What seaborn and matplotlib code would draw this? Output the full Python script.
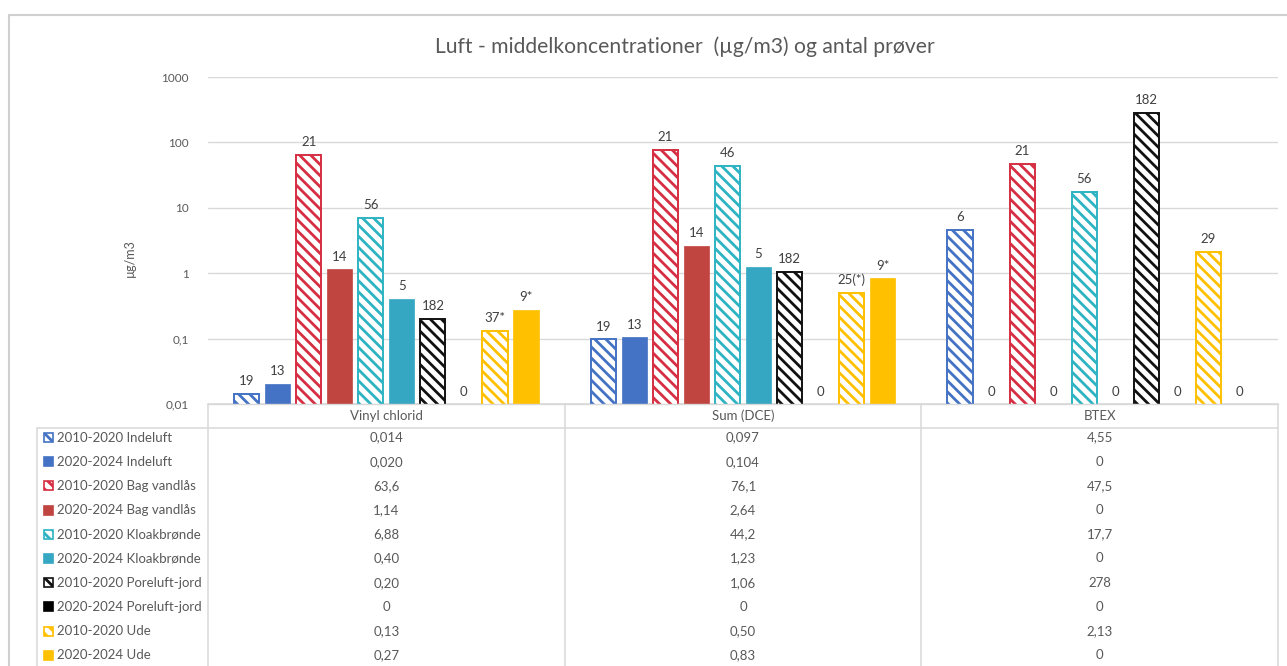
import matplotlib
matplotlib.use("Agg")
import matplotlib.pyplot as plt
import numpy as np
import pandas as pd
import seaborn as sns
from matplotlib.patches import Rectangle
from matplotlib.lines import Line2D
from matplotlib.ticker import FixedLocator, FixedFormatter, NullLocator

# ---- data -----------------------------------------------------------------
stoffer = ["Vinyl chlorid", "Sum (DCE)", "BTEX"]
serier = [
    "2010-2020 Indeluft", "2020-2024 Indeluft",
    "2010-2020 Bag vandlås", "2020-2024 Bag vandlås",
    "2010-2020 Kloakbrønde", "2020-2024 Kloakbrønde",
    "2010-2020 Poreluft-jord", "2020-2024 Poreluft-jord",
    "2010-2020 Ude", "2020-2024 Ude",
]
# mean concentrations (µg/m3) as printed in the data table, per substance
vinyl_chlorid = ["0,014", "0,020", "63,6", "1,14", "6,88", "0,40", "0,20", "0", "0,13", "0,27"]
sum_dce = ["0,097", "0,104", "76,1", "2,64", "44,2", "1,23", "1,06", "0", "0,50", "0,83"]
btex = ["4,55", "0", "47,5", "0", "17,7", "0", "278", "0", "2,13", "0"]
# number of samples shown above each bar
antal_vinyl = ["19", "13", "21", "14", "56", "5", "182", "0", "37*", "9*"]
antal_dce = ["19", "13", "21", "14", "46", "5", "182", "0", "25(*)", "9*"]
antal_btex = ["6", "0", "21", "0", "56", "0", "182", "0", "29", "0"]

tekst = [vinyl_chlorid, sum_dce, btex]
antal = [antal_vinyl, antal_dce, antal_btex]
vaerdier = [[float(s.replace(",", ".")) for s in col] for col in tekst]

farver = ["#4472C4", "#4472C4", "#D62E42", "#C0443F", "#2EB3C2", "#35A7C3",
          "#111111", "#000000", "#FFC000", "#FFC000"]
skraveret = [True, False] * 5

rows = []
for stof, vals in zip(stoffer, vaerdier):
    for serie, v in zip(serier, vals):
        rows.append({"Stof": stof, "Serie": serie, "Værdi": v})
df = pd.DataFrame(rows)

# ---- figure ---------------------------------------------------------------
W, H = 1287, 666
sns.set_theme(style="white")
plt.rcParams["font.family"] = ["Lato", "DejaVu Sans"]
plt.rcParams["hatch.linewidth"] = 2.0
txt = "#595959"
grid = "#D9D9D9"

fig = plt.figure(figsize=(W / 100, H / 100), dpi=100)
fig.patch.set_facecolor("white")

# background layer in pixel coordinates for frame and data table
bg = fig.add_axes([0, 0, 1, 1], zorder=0)
bg.set_xlim(0, W)
bg.set_ylim(H, 0)
bg.axis("off")

left_px, right_px, top_px, bot_px = 208, 1278, 77, 404
ax = fig.add_axes([left_px / W, 1 - bot_px / H, (right_px - left_px) / W, (bot_px - top_px) / H], zorder=2)
ax.patch.set_alpha(0)

sns.barplot(data=df, x="Stof", y="Værdi", hue="Serie", order=stoffer, hue_order=serier,
            palette=farver, width=0.87, gap=0.19, legend=False, ax=ax, errorbar=None,
            linewidth=0)
ax.set_yscale("log")
ax.set_ylim(0.01, 1000)
ax.set_xlim(-0.5, 2.5)

for j, cont in enumerate(ax.containers):
    for i, p in enumerate(cont.patches):
        v = vaerdier[i][j]
        if skraveret[j]:
            p.set_facecolor("white")
            p.set_edgecolor(farver[j])
            p.set_hatch("\\\\\\")
            p.set_linewidth(1.4)
        else:
            p.set_facecolor(farver[j])
            p.set_edgecolor(farver[j])
            p.set_linewidth(0.5)
        if v <= 0:
            p.set_visible(False)
        xc = p.get_x() + p.get_width() / 2
        if v > 0:
            ax.annotate(antal[i][j], (xc, v), xytext=(0, 5), textcoords="offset points",
                        ha="center", va="bottom", fontsize=9.5, color="#404040")
        else:
            ax.text(xc, 0.0155, antal[i][j], ha="center", va="center",
                    fontsize=9.5, color="#404040")

ax.yaxis.set_major_locator(FixedLocator([0.01, 0.1, 1, 10, 100, 1000]))
ax.yaxis.set_major_formatter(FixedFormatter(["0,01", "0,1", "1", "10", "100", "1000"]))
ax.yaxis.set_minor_locator(NullLocator())
ax.tick_params(axis="y", length=0, pad=14, labelsize=8.5, labelcolor=txt)
ax.set_xticks([])
ax.set_xlabel("")
ax.set_ylabel("")
ax.grid(axis="y", color=grid, linewidth=1)
ax.set_axisbelow(True)
for s in ["top", "right", "left"]:
    ax.spines[s].set_visible(False)
ax.spines["bottom"].set_color(grid)
ax.spines["bottom"].set_linewidth(1)

# title and axis label
bg.text(685, 47, "Luft - middelkoncentrationer  (µg/m3) og antal prøver",
        ha="center", va="center", fontsize=15.2, color=txt)
bg.text(130, 258, "µg/m3", ha="center", va="center", rotation=90, fontsize=9, color=txt)

# chart frame
bg.add_line(Line2D([9, 9], [15, H], color="#D0D0D0", lw=1.5))
bg.add_line(Line2D([9, W], [15, 15], color="#D0D0D0", lw=1.5))

# ---- data table -----------------------------------------------------------
kol_kant = [ax.transData.transform((k - 0.5, 1))[0] for k in range(4)]
kol_mid = [ax.transData.transform((k, 1))[0] for k in range(3)]
line_kw = dict(color=grid, lw=1.1)
hdr_top, hdr_bot = 404, 428
leg_left = 37
bg.add_line(Line2D([kol_kant[0], kol_kant[-1]], [hdr_top, hdr_top], **line_kw))
bg.add_line(Line2D([leg_left, kol_kant[-1]], [hdr_bot, hdr_bot], **line_kw))
for xk in kol_kant:
    bg.add_line(Line2D([xk, xk], [hdr_top, H], **line_kw))
bg.add_line(Line2D([leg_left, leg_left], [hdr_bot, H], **line_kw))

for k, stof in enumerate(stoffer):
    bg.text(kol_mid[k], (hdr_top + hdr_bot) / 2, stof, ha="center", va="center",
            fontsize=9.5, color=txt)

row_h = 24.2
for j, serie in enumerate(serier):
    yc = 437.5 + row_h * j
    key = Rectangle((44, yc - 4.5), 9, 9, transform=bg.transData, zorder=3,
                    facecolor="white" if skraveret[j] else farver[j],
                    edgecolor=farver[j], linewidth=1.2,
                    hatch="\\\\\\" if skraveret[j] else None)
    bg.add_patch(key)
    bg.text(57, yc, serie, ha="left", va="center", fontsize=9.5, color=txt)
    for k in range(3):
        bg.text(kol_mid[k], yc, tekst[k][j], ha="center", va="center", fontsize=9.5, color=txt)

fig.savefig("out.png", dpi=100, facecolor="white")
